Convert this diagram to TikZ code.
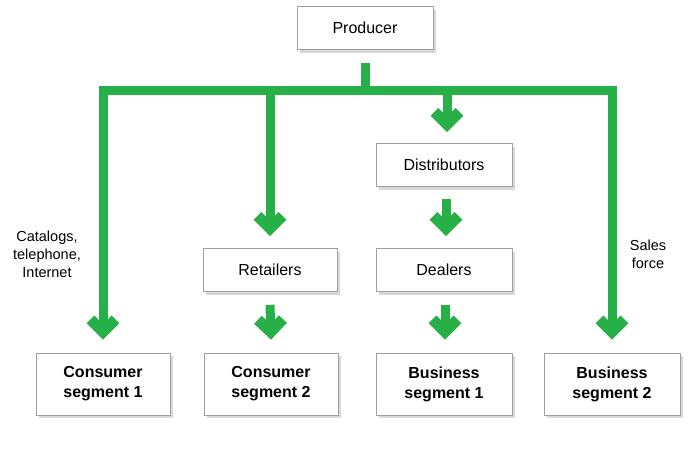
\documentclass[tikz,border=0pt]{standalone}
\usepackage{fontspec}
\setmainfont{Liberation Sans}
\usetikzlibrary{arrows.meta,shadows}
\definecolor{arrowgreen}{RGB}{40,176,72}
\begin{document}
\begin{tikzpicture}[x=1pt,y=-1pt,
  box/.style={draw=gray!75, fill=white, line width=0.6pt, minimum width=136pt,
    minimum height=43pt, inner sep=0pt, align=center,
    font=\fontsize{16}{20}\selectfont,
    drop shadow={shadow xshift=3pt, shadow yshift=-3pt, opacity=0.3, fill=gray}},
  seg/.style={box, minimum height=62pt, font=\bfseries\fontsize{16}{20}\selectfont},
  flow/.style={draw=arrowgreen, line width=9pt, line join=miter},
  arr/.style={flow, -{Straight Barb[length=12.5pt, width=25pt, line width=11pt]}},
  dbl/.style={flow, {Straight Barb[length=12.5pt, width=25pt, line width=11pt]}-{Straight Barb[length=12.5pt, width=25pt, line width=11pt]}},
  lbl/.style={align=center, font=\fontsize{14.5}{18}\selectfont}]
\fill[white] (0,0) rectangle (700,459);
\useasboundingbox (0,0) rectangle (700,459);

\node[box] (prod) at (365,28) {Producer};
\node[box] (dist) at (444,165) {Distributors};
\node[box, minimum width=134pt] (ret) at (270,270) {Retailers};
\node[box] (deal) at (444,270) {Dealers};
\node[seg, minimum width=134pt] (cs1) at (103,384) {Consumer\\segment 1};
\node[seg, minimum width=134pt] (cs2) at (271,384) {Consumer\\segment 2};
\node[seg] (bs1) at (444,384) {Business\\segment 1};
\node[seg] (bs2) at (612,384) {Business\\segment 2};

\coordinate (bar) at (365,90);

\draw[flow] ([yshift=-13pt]prod.south) -- (bar);
\draw[dbl] ([yshift=13pt]cs1.north) |- (bar) -| ([yshift=13pt]bs2.north);
\draw[arr] (ret |- bar) -- ([yshift=12pt]ret.north);
\draw[arr] ([xshift=3pt]dist |- bar) -- ([xshift=3pt,yshift=11pt]dist.north);
\draw[arr] ([xshift=2pt,yshift=-12pt]dist.south) -- ([xshift=2pt,yshift=12pt]deal.north);
\draw[arr] ([yshift=-13pt]ret.south) -- ([yshift=13pt]cs2.north);
\draw[arr] ([xshift=1pt,yshift=-13pt]deal.south) -- ([xshift=1pt,yshift=13pt]bs1.north);

\node[lbl] (lcat) at (47,254) {Catalogs,\\telephone,\\Internet};
\node[lbl] (lsales) at (648,254) {Sales\\force};
\end{tikzpicture}
\end{document}
